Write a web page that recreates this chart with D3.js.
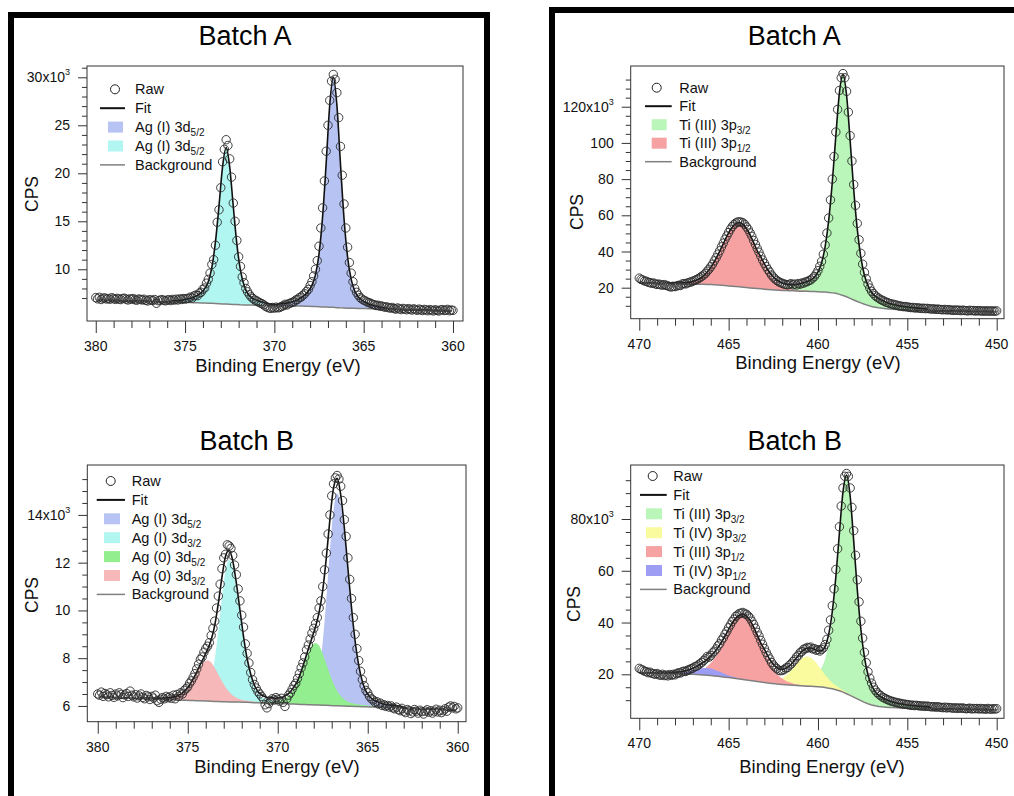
<!DOCTYPE html>
<html><head><meta charset="utf-8">
<script src="https://cdn.jsdelivr.net/npm/d3@7"></script>
<style>
body{margin:0;background:#fff}
svg{display:block}
text{font-family:"Liberation Sans",Arial,Helvetica,sans-serif;fill:#111}
</style></head><body>
<svg id="c" width="1014" height="796"></svg>
<script>
// ---------------- DATA (values in thousands of CPS) ----------------
const RAW_STEP = 0.1, GRID_STEP = 0.2;

// ---- Ag 3d, Batch A ----
const agA_rawStart = 380.0;
const agA_raw = [7.05,6.92,7.08,6.85,6.98,7.02,6.90,6.95,6.88,7.04,6.93,6.86,6.97,6.90,6.84,6.95,6.99,6.88,6.80,6.92,6.87,6.95,6.82,6.78,6.90,6.86,6.80,6.88,6.76,6.70,6.83,6.79,6.74,6.85,6.45,6.72,6.78,6.84,6.77,6.71,6.80,
6.82,6.74,6.86,6.79,6.88,6.80,6.92,6.85,6.95,6.90,
6.95,6.98,7.10,7.00,7.22,7.30,7.25,7.52,7.60,7.92,8.05,8.55,
8.95,9.6,10.5,11.0,12.5,14.9,16.2,18.5,21.2,22.5,23.5,
22.9,21.5,19.6,16.9,15.0,13.0,11.3,10.3,9.2,8.6,
8.0,7.65,7.35,7.12,6.95,6.80,6.72,6.60,6.50,6.42,
6.30,6.15,6.05,5.98,5.92,6.02,5.95,6.05,5.98,
6.02,6.12,6.20,6.35,6.28,6.40,6.48,6.55,6.62,6.80,
6.85,7.05,7.10,7.30,7.45,7.70,7.90,8.30,8.70,9.30,10.0,
10.9,12.4,14.3,16.4,19.2,22.3,25.0,27.6,29.6,30.3,
29.8,28.4,25.8,22.8,19.8,16.8,14.3,12.3,10.7,9.6,
8.7,8.0,7.6,7.3,7.05,6.90,6.78,6.70,6.58,6.52,6.45,
6.35,6.30,6.22,6.25,6.15,6.18,6.10,6.05,6.08,
6.00,5.95,6.02,5.90,5.85,5.97,5.88,5.80,5.92,5.86,5.78,5.90,5.83,5.75,5.88,5.80,5.72,5.85,5.78,5.70,5.82,5.76,5.68,5.80,5.74,5.66,5.78,5.72,5.65,5.76,5.80,5.70,5.74,5.82,5.68,5.75,5.72];
const agA_bgStart = 379.9;
const agA_bg = [6.78,6.77,6.76,6.75,6.74,6.74,6.73,6.72,6.71,6.70,6.69,6.68,6.67,6.66,6.65,6.64,6.63,6.62,6.61,6.60,
6.59,6.58,6.57,6.56,6.55,6.54,6.53,6.52,6.51,6.49,6.48,6.46,6.45,6.43,6.41,6.39,6.37,6.35,6.33,6.32,
6.30,6.29,6.28,6.27,6.26,6.25,6.24,6.24,6.23,6.22,6.21,6.20,6.20,6.19,6.18,6.18,6.17,6.16,6.15,6.14,
6.12,6.11,6.10,6.08,6.06,6.04,6.03,6.00,5.98,5.97,5.95,5.94,5.93,5.92,5.91,5.90,5.89,5.88,5.87,5.86,
5.85,5.84,5.83,5.82,5.81,5.80,5.79,5.78,5.77,5.76,5.75,5.74,5.73,5.72,5.71,5.70,5.69,5.68,5.67,5.66];
const agA_agI_52_start = 369.7;
const agA_agI_52 = [0.16,0.22,0.28,0.38,0.50,0.66,0.88,1.18,1.58,2.20,3.30,5.50,9.40,15.0,21.1,24.0,21.1,15.0,9.3,5.3,3.0,1.8,1.2,0.88,0.66,0.50,0.37,0.27,0.20,0.14,0.10];
const agA_agI_32_start = 375.7;
const agA_agI_32 = [0.11,0.15,0.19,0.26,0.34,0.45,0.60,0.80,1.08,1.50,2.25,3.75,6.4,10.2,14.3,16.3,14.3,10.2,6.3,3.6,2.05,1.22,0.82,0.60,0.45,0.34,0.25,0.18,0.13,0.09,0.07];

// ---- Ag 3d, Batch B ----
const agB_rawStart = 380.0;
const agB_raw = [6.50,6.45,6.58,6.40,6.52,6.47,6.38,6.55,6.44,6.36,6.50,6.42,6.55,6.48,6.35,6.46,6.52,6.40,6.62,6.45,6.38,6.47,6.33,6.42,6.50,6.36,6.30,6.44,6.38,6.27,6.40,6.33,6.45,6.22,6.15,6.28,6.35,6.30,6.40,6.34,6.38,
6.32,6.45,6.30,6.48,6.40,6.55,6.50,6.65,6.72,6.80,
6.95,7.05,7.20,7.35,7.55,7.75,7.95,8.05,8.25,8.40,8.50,
8.65,8.95,9.25,9.55,10.1,10.6,11.1,11.75,12.2,12.35,12.75,12.7,
12.6,12.3,11.9,11.5,10.9,10.4,9.8,9.3,8.6,8.2,7.8,7.4,7.1,6.9,6.75,6.60,6.50,
6.40,6.30,6.05,5.92,6.10,6.22,6.30,6.25,6.35,6.28,6.20,6.32,6.15,5.98,
6.30,6.45,6.55,6.70,6.85,6.95,7.15,7.35,7.60,7.80,8.05,8.35,8.55,8.80,9.05,9.25,9.45,
9.7,10.1,10.4,11.0,11.7,12.4,13.2,14.0,14.8,15.3,15.55,15.65,
15.5,15.2,14.6,13.8,13.1,12.2,11.3,10.5,9.7,9.0,8.4,7.9,7.45,7.1,6.85,6.65,6.55,
6.40,6.30,6.25,6.15,6.18,6.08,6.12,6.02,6.05,5.98,6.02,5.95,6.00,5.92,5.88,5.95,5.85,5.80,5.90,5.78,5.72,5.85,5.80,5.68,5.75,5.85,5.78,5.70,5.82,5.76,5.66,5.78,5.84,5.74,5.80,5.70,5.78,5.86,5.75,5.82,5.72,5.80,5.88,5.78,5.95,6.00,5.92,5.98,5.88,5.92];
const agB_bgStart = 379.9;
const agB_bg = [6.37,6.36,6.36,6.35,6.35,6.34,6.33,6.33,6.32,6.32,6.31,6.31,6.30,6.30,6.29,6.29,6.28,6.28,6.27,6.26,
6.26,6.25,6.25,6.24,6.24,6.23,6.23,6.22,6.22,6.21,6.21,6.20,6.19,6.19,6.18,6.18,6.17,6.17,6.16,6.16,
6.15,6.15,6.14,6.13,6.13,6.12,6.12,6.11,6.11,6.10,6.10,6.09,6.09,6.08,6.08,6.07,6.06,6.06,6.05,6.05,
6.04,6.04,6.03,6.03,6.02,6.01,6.01,6.00,6.00,5.99,5.99,5.98,5.98,5.97,5.97,5.96,5.96,5.95,5.95,5.94,
5.93,5.93,5.92,5.92,5.91,5.91,5.90,5.90,5.89,5.88,5.88,5.87,5.87,5.86,5.86,5.85,5.85,5.84,5.84,5.83];
const agB_agI_52_start = 370.3;
const agB_agI_52 = [0.015,0.02,0.025,0.03,0.035,0.04,0.05,0.06,0.08,0.11,0.17,0.32,0.68,1.41,2.65,4.45,6.5,8.2,8.9,8.43,7.19,5.59,3.99,2.63,1.64,0.99,0.59,0.38,0.26,0.19,0.15,0.13,0.12,0.10,0.09,0.08,0.07];
const agB_agI_32_start = 376.3;
const agB_agI_32 = [0.01,0.013,0.017,0.02,0.025,0.03,0.035,0.04,0.05,0.07,0.11,0.21,0.45,0.94,1.77,2.98,4.35,5.49,5.95,5.64,4.81,3.74,2.67,1.76,1.10,0.66,0.39,0.25,0.18,0.13,0.11,0.095,0.085,0.075,0.065,0.06,0.05];
const agB_ag0_52_start = 371.5;
const agB_ag0_52 = [0.036,0.042,0.047,0.052,0.06,0.068,0.08,0.10,0.13,0.18,0.27,0.41,0.62,0.92,1.30,1.73,2.16,2.48,2.6,2.48,2.16,1.73,1.30,0.92,0.62,0.41,0.27,0.18,0.13,0.10,0.08,0.068,0.06,0.052,0.047,0.042,0.036];
const agB_ag0_32_start = 377.5;
const agB_ag0_32 = [0.024,0.027,0.031,0.034,0.039,0.044,0.053,0.066,0.085,0.12,0.18,0.27,0.41,0.60,0.85,1.13,1.41,1.62,1.7,1.62,1.41,1.13,0.85,0.60,0.41,0.27,0.18,0.12,0.085,0.066,0.053,0.044,0.039,0.034,0.031,0.027,0.024];

// ---- Ti, Batch A ----
const tiA_rawStart = 470.0;
const tiA_raw = [25.3,24.6,24.2,23.7,23.5,23.0,22.8,22.4,22.6,22.1,21.8,22.0,21.6,21.4,21.7,21.3,
21.0,20.6,20.4,20.8,20.6,21.0,21.3,21.2,22.0,22.3,22.1,22.6,22.9,23.2,23.6,24.0,24.5,25.0,25.6,26.3,
27.0,27.9,29.1,30.2,31.6,33.0,34.8,36.5,38.5,40.4,42.6,44.6,46.8,48.6,50.5,52.3,53.8,54.9,55.8,56.3,56.4,
56.2,55.9,55.0,53.6,52.2,50.3,48.4,46.1,43.9,41.7,39.6,37.4,35.3,33.5,31.7,30.0,28.6,27.0,25.9,24.8,24.0,23.3,22.8,22.4,22.0,21.8,21.5,21.9,
22.2,21.6,22.0,21.5,22.3,21.9,22.6,22.5,23.2,23.3,24.0,24.3,25.3,26.2,27.6,29.4,31.8,34.5,38.5,43.6,50.2,58.5,68.5,80.0,
92.5,106.0,118.5,129.0,136.0,138.3,136.0,128.5,117.0,104.0,90.0,77.0,
65.5,55.5,46.5,39.0,33.0,28.5,25.0,22.0,19.8,18.0,16.8,15.6,14.8,14.2,13.5,13.0,12.6,12.0,11.8,11.3,11.0,10.9,10.5,10.4,10.0,9.9,9.7,9.5,9.6,9.3,
9.2,9.0,9.1,8.8,8.9,8.8,8.7,8.5,8.7,8.4,8.6,8.4,8.3,8.2,8.3,8.0,8.2,8.0,7.9,7.8,8.0,7.7,7.9,7.7,7.6,7.5,7.7,7.5,7.6,7.3,7.6,7.4,7.3,7.2,7.5,7.3,7.4,7.1,7.3,7.2,7.3,7.0,7.2,7.1,7.2,7.0,7.2,7.1,7.0,7.2];
const tiA_bgStart = 470.0;
const tiA_bg = [22.6,22.56,22.52,22.48,22.44,22.4,22.36,22.32,22.28,22.24,22.2,22.16,22.12,22.08,22.04,22.0,21.96,21.92,21.88,21.8,
21.7,21.58,21.46,21.32,21.16,21.0,20.84,20.68,20.5,20.3,20.1,19.9,19.7,19.52,19.36,19.2,19.04,18.88,18.74,18.62,
18.5,18.42,18.34,18.26,18.18,18.1,18.04,17.98,17.92,17.86,17.8,17.68,17.56,17.38,17.14,16.9,16.3,15.7,15.0,14.1,
13.2,12.4,11.6,10.88,10.24,9.6,9.24,8.88,8.6,8.4,8.2,8.08,7.96,7.85,7.75,7.65,7.59,7.53,7.47,7.41,
7.35,7.31,7.27,7.23,7.19,7.15,7.11,7.07,7.03,6.99,6.95,6.93,6.91,6.89,6.87,6.85,6.83,6.81,6.79,6.77,6.75];
const tiA_tiIII_32_start = 463.2;
const tiA_tiIII_32 = [1.02,1.11,1.22,1.34,1.47,1.65,1.83,2.07,2.34,2.7,3.05,3.6,4.3,5.1,6.2,7.9,10.9,16.0,25.1,39.8,61.0,87.1,111.4,122,111.4,87.1,61.0,39.8,25.1,16.0,10.9,7.9,6.2,5.1,4.3,3.6,3.05,2.7,2.34,2.07,1.83,1.65,1.47,1.34,1.22,1.11,1.02];
const tiA_tiIII_12_start = 468.4;
const tiA_tiIII_12 = [0.28,0.32,0.36,0.46,0.57,0.75,1.03,1.49,2.24,3.30,4.83,6.89,9.55,12.85,16.7,20.9,25.2,29.3,32.6,34.7,35.5,34.7,32.6,29.3,25.2,20.9,16.7,12.85,9.55,6.89,4.83,3.30,2.24,1.49,1.03,0.75,0.57,0.46,0.36,0.32,0.28];

// ---- Ti, Batch B ----
const tiB_rawStart = 470.0;
const tiB_raw = [22.3,21.9,21.6,21.2,21.0,20.6,20.8,20.4,20.2,20.0,20.3,19.8,19.6,20.0,19.5,19.7,19.4,19.9,19.6,20.0,19.8,
20.3,20.6,20.5,21.0,21.2,21.1,21.6,21.8,22.2,22.4,22.9,23.1,23.6,24.1,24.6,25.3,26.0,26.9,
26.6,27.2,28.3,28.9,29.8,31.0,31.8,33.2,34.1,35.5,36.6,38.0,39.1,40.4,41.3,42.4,42.9,43.5,43.6,43.9,
43.4,43.2,42.5,41.7,40.5,39.3,37.8,36.2,34.8,33.1,31.6,30.0,28.5,27.1,25.9,24.6,23.6,22.8,22.2,21.6,21.4,21.5,
21.8,22.4,22.6,23.5,24.0,24.9,25.6,26.7,27.3,28.4,28.8,29.7,29.9,30.4,30.2,30.5,29.8,29.9,29.3,29.5,29.0,29.6,30.2,31.5,
33.5,37.0,41.0,46.5,53.0,60.5,68.5,77.0,85.0,92.0,96.5,97.6,
96.5,92.0,84.5,75.5,66.0,56.5,48.0,40.5,34.0,28.5,24.5,21.0,18.5,16.6,15.0,13.9,13.0,12.3,11.8,11.2,10.9,10.5,10.2,9.9,9.6,9.5,9.2,9.1,8.9,8.8,8.6,8.5,8.4,8.3,
8.2,8.0,8.1,7.9,8.0,7.9,7.8,7.7,7.8,7.6,7.7,7.6,7.5,7.4,7.5,7.3,7.5,7.3,7.2,7.1,7.3,7.0,7.2,7.1,7.0,6.9,7.1,6.8,7.0,6.9,7.0,6.8,6.7,6.8,6.9,6.6,6.8,6.7,6.8,6.6,6.8,6.6,6.7,6.5,6.8,6.6,6.5,6.7,6.6,6.7];
const tiB_bgStart = 470.0;
const tiB_bg = [20.6,20.58,20.56,20.54,20.52,20.5,20.46,20.42,20.38,20.34,20.3,20.24,20.18,20.12,20.06,20.0,19.9,19.8,19.7,19.6,
19.5,19.36,19.22,19.06,18.9,18.72,18.54,18.36,18.18,18.0,17.8,17.6,17.4,17.2,17.0,16.82,16.64,16.48,16.32,16.18,
16.05,15.94,15.84,15.75,15.66,15.58,15.5,15.42,15.34,15.26,15.18,15.05,14.88,14.65,14.38,14.05,13.62,13.1,12.5,11.85,
11.2,10.5,9.8,9.15,8.6,8.15,7.85,7.6,7.42,7.3,7.2,7.13,7.07,7.01,6.96,6.91,6.87,6.83,6.8,6.77,
6.74,6.71,6.68,6.65,6.62,6.6,6.57,6.54,6.52,6.5,6.48,6.46,6.44,6.42,6.4,6.38,6.36,6.34,6.32,6.3,6.28];
const tiB_tiIII_32_start = 463.0;
const tiB_tiIII_32 = [0.70,0.76,0.84,0.92,1.01,1.13,1.26,1.43,1.61,1.85,2.1,2.47,2.94,3.53,4.28,5.46,7.5,11.0,17.3,27.4,42.0,60.0,76.7,84,76.7,60.0,42.0,27.4,17.3,11.0,7.5,5.46,4.28,3.53,2.94,2.47,2.1,1.85,1.61,1.43,1.26,1.13,1.01,0.92,0.84,0.76,0.70];
const tiB_tiIV_32_start = 464.2;
const tiB_tiIV_32 = [0.14,0.15,0.17,0.20,0.22,0.28,0.35,0.47,0.69,1.04,1.59,2.39,3.51,4.93,6.6,8.35,9.95,11.07,11.5,11.07,9.95,8.35,6.6,4.93,3.51,2.39,1.59,1.04,0.69,0.47,0.35,0.28,0.22,0.20,0.17,0.15,0.14];
const tiB_tiIII_12_start = 468.2;
const tiB_tiIII_12 = [0.20,0.23,0.25,0.32,0.40,0.53,0.73,1.05,1.58,2.32,3.40,4.85,6.72,9.05,11.76,14.7,17.75,20.6,22.96,24.4,25.0,24.4,22.96,20.6,17.75,14.7,11.76,9.05,6.72,4.85,3.40,2.32,1.58,1.05,0.73,0.53,0.40,0.32,0.25,0.23,0.20];
const tiB_tiIV_12_start = 469.8;
const tiB_tiIV_12 = [0.034,0.036,0.042,0.048,0.053,0.067,0.084,0.115,0.17,0.25,0.39,0.58,0.85,1.20,1.61,2.03,2.42,2.70,2.8,2.70,2.42,2.03,1.61,1.20,0.85,0.58,0.39,0.25,0.17,0.115,0.084,0.067,0.053,0.048,0.042,0.036,0.034];

// ---- tick labels ----
const agX_ticks = [380,375,370,365,360];
const tiX_ticks = [470,465,460,455,450];
const agA_yTicks = [10,15,20,25,30];
const agB_yTicks = [6,8,10,12,14];
const tiA_yTicks = [20,40,60,80,100,120];
const tiB_yTicks = [20,40,60,80];

// ---- labels ----
const titles = ["Batch A","Batch B"];
const xTitle = "Binding Energy (eV)";
const yTitle = "CPS";

// ---------------- RENDER ----------------
const svg = d3.select('#c');
const defs = svg.append('defs');
const r1 = v => Math.round(v*10)/10;

// frames
svg.append('rect').attr('x',11).attr('y',15).attr('width',476).attr('height',1000)
  .attr('fill','none').attr('stroke','#000').attr('stroke-width',6);
svg.append('rect').attr('x',552).attr('y',10).attr('width',1000).attr('height',1000)
  .attr('fill','none').attr('stroke','#000').attr('stroke-width',6);

const C = {
  agI52:'#b7c3f3', agI32:'#b2f6f1', ag052:'#92ee8e', ag032:'#f6b8b8',
  tiIII32:'#baf6ba', tiIV32:'#fafa9e', tiIII12:'#f6a2a2', tiIV12:'#9d9df4'
};

const panels = [
 { id:'tl', box:{x:87,y:66,w:376,h:255}, xDomain:[380.49,359.44], yDomain:[4.61,31.18],
   rawStart:agA_rawStart, raw:agA_raw, bgStart:agA_bgStart, bg:agA_bg,
   comps:[{start:agA_agI_52_start, values:agA_agI_52, color:C.agI52},
          {start:agA_agI_32_start, values:agA_agI_32, color:C.agI32}],
   xTicks:agX_ticks, xMinor:d3.range(360,381,1), yTicks:agA_yTicks, yMinor:d3.range(7,31.5,1),
   title:titles[0], titleX:245, titleY:45, xTitleX:278, xTitleDy:51, cps:[32,194],
   legend:{y:89.3, dy:18.9, cx:115, lx1:100, lx2:125, sx:108, sw:15, tx:135,
     items:[{t:'raw',label:'Raw'},{t:'fit',label:'Fit'},
            {t:'sw',label:'Ag (I) 3d',sub:'5/2',color:C.agI52},
            {t:'sw',label:'Ag (I) 3d',sub:'5/2',color:C.agI32},
            {t:'bg',label:'Background'}]}},
 { id:'tr', box:{x:630.7,y:66,w:373.3,h:252.7}, xDomain:[470.48,449.59], yDomain:[2.87,142.5],
   rawStart:tiA_rawStart, raw:tiA_raw, bgStart:tiA_bgStart, bg:tiA_bg,
   comps:[{start:tiA_tiIII_32_start, values:tiA_tiIII_32, color:C.tiIII32},
          {start:tiA_tiIII_12_start, values:tiA_tiIII_12, color:C.tiIII12}],
   xTicks:tiX_ticks, xMinor:d3.range(450,471,1), yTicks:tiA_yTicks, yMinor:d3.range(10,136,5),
   title:titles[0], titleX:794.3, titleY:44.5, xTitleX:818, xTitleDy:50.5, cps:[577,212],
   legend:{y:87.7, dy:18.5, cx:656.7, lx1:645, lx2:671.7, sx:651.7, sw:15, tx:679.3,
     items:[{t:'raw',label:'Raw'},{t:'fit',label:'Fit'},
            {t:'sw',label:'Ti (III) 3p',sub:'3/2',color:C.tiIII32},
            {t:'sw',label:'Ti (III) 3p',sub:'1/2',color:C.tiIII12},
            {t:'bg',label:'Background'}]}},
 { id:'bl', box:{x:87.3,y:465,w:378.7,h:256.7}, xDomain:[380.58,359.54], yDomain:[5.34,16.09],
   rawStart:agB_rawStart, raw:agB_raw, bgStart:agB_bgStart, bg:agB_bg,
   comps:[{start:agB_agI_52_start, values:agB_agI_52, color:C.agI52},
          {start:agB_agI_32_start, values:agB_agI_32, color:C.agI32},
          {start:agB_ag0_52_start, values:agB_ag0_52, color:C.ag052},
          {start:agB_ag0_32_start, values:agB_ag0_32, color:C.ag032}],
   xTicks:agX_ticks, xMinor:d3.range(360,381,1), yTicks:agB_yTicks, yMinor:d3.range(6,15.6,0.5),
   title:titles[1], titleX:246.7, titleY:450, xTitleX:277, xTitleDy:51, cps:[32,595],
   legend:{y:481, dy:18.9, cx:110.7, lx1:96.7, lx2:125, sx:104, sw:16, tx:131.7,
     items:[{t:'raw',label:'Raw'},{t:'fit',label:'Fit'},
            {t:'sw',label:'Ag (I) 3d',sub:'5/2',color:C.agI52},
            {t:'sw',label:'Ag (I) 3d',sub:'3/2',color:C.agI32},
            {t:'sw',label:'Ag (0) 3d',sub:'5/2',color:C.ag052},
            {t:'sw',label:'Ag (0) 3d',sub:'3/2',color:C.ag032},
            {t:'bg',label:'Background'}]}},
 { id:'br', box:{x:630.7,y:465,w:373.3,h:253.3}, xDomain:[470.48,449.59], yDomain:[3.0,100.87],
   rawStart:tiB_rawStart, raw:tiB_raw, bgStart:tiB_bgStart, bg:tiB_bg,
   comps:[{start:tiB_tiIII_32_start, values:tiB_tiIII_32, color:C.tiIII32},
          {start:tiB_tiIV_32_start, values:tiB_tiIV_32, color:C.tiIV32},
          {start:tiB_tiIII_12_start, values:tiB_tiIII_12, color:C.tiIII12},
          {start:tiB_tiIV_12_start, values:tiB_tiIV_12, color:C.tiIV12}],
   xTicks:tiX_ticks, xMinor:d3.range(450,471,1), yTicks:tiB_yTicks, yMinor:d3.range(10,96,5),
   title:titles[1], titleX:794.7, titleY:450, xTitleX:822, xTitleDy:55, cps:[574,604],
   legend:{y:476, dy:18.9, cx:652.7, lx1:640, lx2:666.7, sx:646, sw:16, tx:673.3,
     items:[{t:'raw',label:'Raw'},{t:'fit',label:'Fit'},
            {t:'sw',label:'Ti (III) 3p',sub:'3/2',color:C.tiIII32},
            {t:'sw',label:'Ti (IV) 3p',sub:'3/2',color:C.tiIV32},
            {t:'sw',label:'Ti (III) 3p',sub:'1/2',color:C.tiIII12},
            {t:'sw',label:'Ti (IV) 3p',sub:'1/2',color:C.tiIV12},
            {t:'bg',label:'Background'}]}}
];

function drawPanel(p){
  const b = p.box;
  const g = svg.append('g').attr('transform',`translate(${b.x},${b.y})`);
  const x = d3.scaleLinear().domain(p.xDomain).range([0,b.w]);
  const y = d3.scaleLinear().domain(p.yDomain).range([b.h,0]);
  const cid = 'clip-'+p.id;
  defs.append('clipPath').attr('id',cid).append('rect').attr('width',b.w).attr('height',b.h);
  const plot = g.append('g').attr('clip-path',`url(#${cid})`);

  const bgPts = p.bg.map((v,i)=>({e:r1(p.bgStart - i*GRID_STEP), v}));
  const bgAt = e => p.bg[Math.round((p.bgStart - e)/GRID_STEP)];

  // components (drawn in legend order)
  p.comps.forEach(c=>{
    const pts = c.values.map((v,j)=>{const e=r1(c.start - j*GRID_STEP); const base=bgAt(e); return {e, b:base, t:base+v};});
    plot.append('path').datum(pts).attr('fill',c.color)
      .attr('d', d3.area().x(d=>x(d.e)).y0(d=>y(d.b)).y1(d=>y(d.t)).curve(d3.curveMonotoneX));
  });

  // fit = background + sum of components
  const fitPts = bgPts.map(d=>{
    let s = d.v;
    p.comps.forEach(c=>{const j=Math.round((c.start-d.e)/GRID_STEP); if(j>=0 && j<c.values.length) s+=c.values[j];});
    return {e:d.e, v:s};
  });
  plot.append('path').datum(fitPts).attr('fill','none').attr('stroke','#111').attr('stroke-width',1.6)
    .attr('d', d3.line().x(d=>x(d.e)).y(d=>y(d.v)).curve(d3.curveMonotoneX));
  plot.append('path').datum(bgPts).attr('fill','none').attr('stroke','#808080').attr('stroke-width',1.5)
    .attr('d', d3.line().x(d=>x(d.e)).y(d=>y(d.v)));

  // raw points
  plot.append('g').selectAll('circle').data(p.raw).join('circle')
    .attr('cx',(v,i)=>x(p.rawStart - i*RAW_STEP)).attr('cy',v=>y(v)).attr('r',4.2)
    .attr('fill','none').attr('stroke','#2a2a2a').attr('stroke-width',0.9);

  // frame box
  g.append('rect').attr('width',b.w).attr('height',b.h).attr('fill','none').attr('stroke','#333').attr('stroke-width',1);

  // x axis ticks
  const xMin = g.append('g').attr('transform',`translate(0,${b.h})`)
    .call(d3.axisBottom(x).tickValues(p.xMinor.filter(v=>!p.xTicks.includes(v))).tickSize(7).tickFormat(''));
  const xMaj = g.append('g').attr('transform',`translate(0,${b.h})`)
    .call(d3.axisBottom(x).tickValues(p.xTicks).tickSize(12).tickFormat(''));
  [xMin,xMaj].forEach(a=>{a.select('.domain').remove(); a.selectAll('line').attr('stroke','#333');});
  g.append('g').selectAll('text').data(p.xTicks).join('text')
    .attr('x',d=>x(d)).attr('y',b.h+30).attr('text-anchor','middle').attr('font-size',14).text(d=>d);

  // y axis ticks
  const yMin = g.append('g').call(d3.axisLeft(y).tickValues(p.yMinor.filter(v=>!p.yTicks.includes(v))).tickSize(5).tickFormat(''));
  const yMaj = g.append('g').call(d3.axisLeft(y).tickValues(p.yTicks).tickSize(9).tickFormat(''));
  [yMin,yMaj].forEach(a=>{a.select('.domain').remove(); a.selectAll('line').attr('stroke','#333');});
  const top = p.yTicks[p.yTicks.length-1];
  p.yTicks.forEach(v=>{
    const t = g.append('text').attr('x',-17).attr('y',y(v)+5).attr('text-anchor','end').attr('font-size',14);
    if(v===top){ t.append('tspan').text(v+'x10'); t.append('tspan').attr('font-size',9).attr('dy',-7).text('3'); }
    else t.text(v);
  });

  // titles
  svg.append('text').attr('x',p.titleX).attr('y',p.titleY).attr('text-anchor','middle').attr('font-size',27).style('fill','#000').text(p.title);
  svg.append('text').attr('x',p.xTitleX).attr('y',b.y+b.h+p.xTitleDy).attr('text-anchor','middle').attr('font-size',18.5).text(xTitle);
  svg.append('text').attr('transform',`translate(${p.cps[0]},${p.cps[1]}) rotate(-90)`).attr('text-anchor','middle')
    .attr('dy','0.35em').attr('font-size',17.5).text(yTitle);

  // legend
  const L = p.legend, lg = svg.append('g');
  L.items.forEach((it,i)=>{
    const cy = L.y + i*L.dy;
    if(it.t==='raw') lg.append('circle').attr('cx',L.cx).attr('cy',cy).attr('r',4.5).attr('fill','none').attr('stroke','#222').attr('stroke-width',1);
    else if(it.t==='fit') lg.append('line').attr('x1',L.lx1).attr('x2',L.lx2).attr('y1',cy).attr('y2',cy).attr('stroke','#111').attr('stroke-width',2);
    else if(it.t==='bg') lg.append('line').attr('x1',L.lx1).attr('x2',L.lx2).attr('y1',cy).attr('y2',cy).attr('stroke','#808080').attr('stroke-width',1.5);
    else lg.append('rect').attr('x',L.sx).attr('y',cy-5.5).attr('width',L.sw).attr('height',11).attr('fill',it.color);
    const t = lg.append('text').attr('x',L.tx).attr('y',cy+5).attr('font-size',14.5);
    t.append('tspan').text(it.label);
    if(it.sub) t.append('tspan').attr('font-size',10).attr('dy',4).text(it.sub);
  });
}
panels.forEach(drawPanel);
</script>
</body></html>
